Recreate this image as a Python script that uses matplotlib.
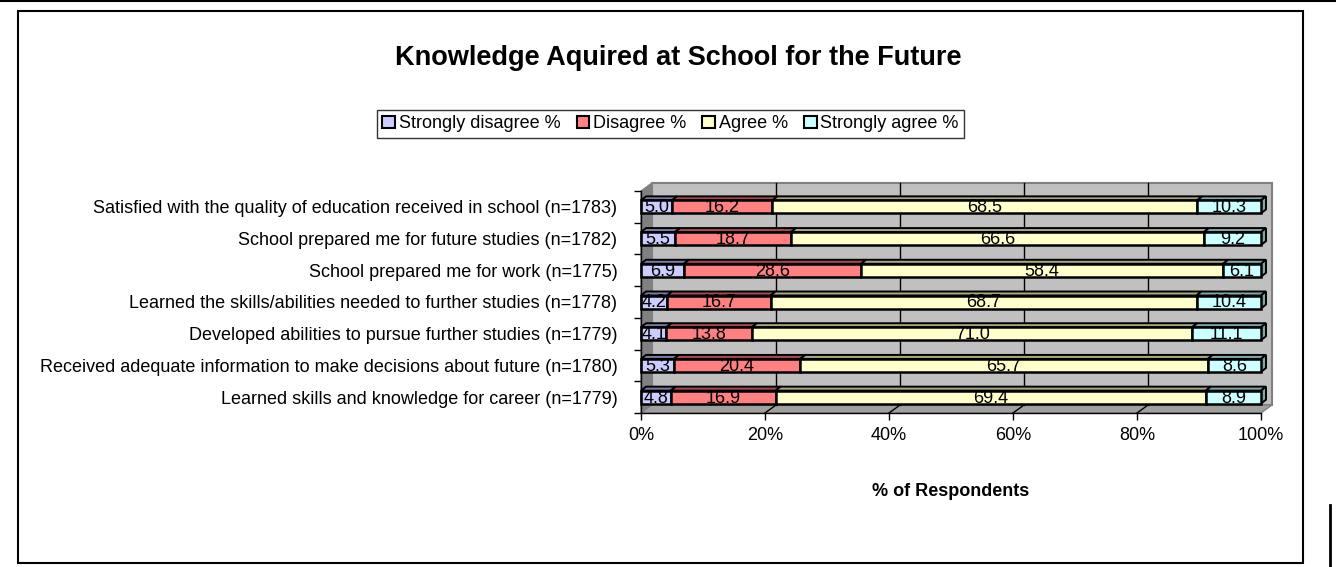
import matplotlib
matplotlib.use("Agg")
import matplotlib.pyplot as plt
from matplotlib.patches import Patch, Polygon, Rectangle
from matplotlib.lines import Line2D
import numpy as np

plt.rcParams['font.family'] = ['Liberation Sans', 'DejaVu Sans']

categories = [
    "Satisfied with the quality of education received in school (n=1783)",
    "School prepared me for future studies (n=1782)",
    "School prepared me for work (n=1775)",
    "Learned the skills/abilities needed to further studies (n=1778)",
    "Developed abilities to pursue further studies (n=1779)",
    "Received adequate information to make decisions about future (n=1780)",
    "Learned skills and knowledge for career (n=1779)",
]
series_names = ["Strongly disagree %", "Disagree %", "Agree %", "Strongly agree %"]
strongly_disagree = [5.0, 5.5, 6.9, 4.2, 4.1, 5.3, 4.8]
disagree = [16.2, 18.7, 28.6, 16.7, 13.8, 20.4, 16.9]
agree = [68.5, 66.6, 58.4, 68.7, 71.0, 65.7, 69.4]
strongly_agree = [10.3, 9.2, 6.1, 10.4, 11.1, 8.6, 8.9]
xticks = [0, 20, 40, 60, 80, 100]

colors = ['#CCCCFF', '#FF8080', '#FFFFCC', '#CCFFFF']
tops = ['#7A7AA8', '#A84A4A', '#A8A87F', '#7FA8A8']
FS = 13

W, H = 1336, 567
fig = plt.figure(figsize=(W / 100, H / 100), dpi=100)

# plot area in pixels
x0, x1 = 641, 1261
y_top, y_bot = 191, 413
ax = fig.add_axes([x0 / W, 1 - y_bot / H, (x1 - x0) / W, (y_bot - y_top) / H])
n = len(categories)
ax.set_xlim(0, 100)
ax.set_ylim(n - 0.5, -0.5)
ax.patch.set_alpha(0)

px_x = (x1 - x0) / 100.0
px_y = (y_bot - y_top) / n
dx, dy = 11 / px_x, 8 / px_y      # wall depth
bdx, bdy = 5 / px_x, 4 / px_y     # bar depth
bh = 13 / px_y

# walls
back = Rectangle((dx, -0.5 - dy), 100, n, facecolor='#C0C0C0', edgecolor='#808080',
                 lw=1.5, clip_on=False, zorder=0)
ax.add_patch(back)
side = Polygon([(0, -0.5), (dx, -0.5 - dy), (dx, n - 0.5 - dy), (0, n - 0.5)],
               closed=True, facecolor='#808080', edgecolor='#808080', clip_on=False, zorder=0.5)
ax.add_patch(side)
floor = Polygon([(0, n - 0.5), (100, n - 0.5), (100 + dx, n - 0.5 - dy), (dx, n - 0.5 - dy)],
                closed=True, facecolor='#A0A0A0', edgecolor='#808080', clip_on=False, zorder=0.5)
ax.add_patch(floor)
for xv in xticks[1:-1]:
    ax.plot([xv + dx, xv + dx], [-0.5 - dy, n - 0.5 - dy], color='black', lw=1,
            clip_on=False, zorder=0.6)
    ax.plot([xv, xv + dx], [n - 0.5, n - 0.5 - dy], color='black', lw=1,
            clip_on=False, zorder=0.6)

# bars
data = [strongly_disagree, disagree, agree, strongly_agree]
ypos = np.arange(n)
left = np.zeros(n)
for k, vals in enumerate(data):
    vals = np.array(vals)
    ax.barh(ypos, vals, left=left, height=bh, color=colors[k], edgecolor='black',
            lw=1.8, zorder=3, clip_on=False)
    for i in range(n):
        l, r = left[i], left[i] + vals[i]
        yt = ypos[i] - bh / 2
        top = Polygon([(l, yt), (r, yt), (r + bdx, yt - bdy), (l + bdx, yt - bdy)],
                      closed=True, facecolor=tops[k], edgecolor='black', lw=1.4,
                      clip_on=False, zorder=2.5)
        ax.add_patch(top)
        if k == len(data) - 1:
            cap = Polygon([(r, yt), (r + bdx, yt - bdy), (r + bdx, yt + bh - bdy), (r, yt + bh)],
                          closed=True, facecolor='#7FA8A8', edgecolor='black', lw=1.4,
                          clip_on=False, zorder=2.5)
            ax.add_patch(cap)
        ax.text((l + r) / 2, ypos[i] + 0.03, "%.1f" % vals[i], ha='center', va='center',
                fontsize=FS, color='black', zorder=4)
    left = left + vals

# axes
for s in ['top', 'right']:
    ax.spines[s].set_visible(False)
ax.spines['left'].set_linewidth(1)
ax.spines['bottom'].set_linewidth(1)
ax.spines['left'].set_zorder(5)
ax.set_xticks(xticks)
ax.set_xticklabels(["%d%%" % v for v in xticks], fontsize=FS)
ax.tick_params(axis='x', direction='out', length=5, width=1, pad=5)
ax.set_yticks(np.arange(n + 1) - 0.5)
ax.set_yticklabels([])
ax.set_yticks(ypos, minor=True)
ax.set_yticklabels(categories, minor=True, fontsize=FS)
ax.tick_params(axis='y', which='major', direction='out', length=5, width=1)
ax.tick_params(axis='y', which='minor', length=0, pad=17)
ax.set_xlabel("% of Respondents", fontsize=FS, fontweight='bold', labelpad=28)

# title and legend
fig.text(678 / W, 1 - 58 / H, "Knowledge Aquired at School for the Future",
         ha='center', va='center', fontsize=19.5, fontweight='bold')
handles = [Patch(facecolor=c, edgecolor='black', lw=1.5) for c in colors]
leg = fig.legend(handles, series_names, loc='upper left', bbox_to_anchor=(377 / W, 1 - 110 / H),
                 ncol=4, fontsize=FS, frameon=True, fancybox=False, edgecolor='black',
                 handlelength=0.7, handleheight=0.7, handletextpad=0.2, columnspacing=0.9,
                 borderpad=0.3, borderaxespad=0)
leg.get_frame().set_linewidth(1)

# chart border and page edges
fig.patches.append(Rectangle((18 / W, 1 - 563 / H), (1303 - 18) / W, (563 - 11) / H,
                             transform=fig.transFigure, fill=False, edgecolor='black', lw=1.5))
fig.lines.append(Line2D([0, 1], [1 - 0.5 / H, 1 - 0.5 / H], transform=fig.transFigure,
                        color='black', lw=1.5))
fig.lines.append(Line2D([1330 / W, 1330 / W], [0, 1 - 505 / H], transform=fig.transFigure,
                        color='black', lw=2))

fig.savefig("out.png", dpi=100)
